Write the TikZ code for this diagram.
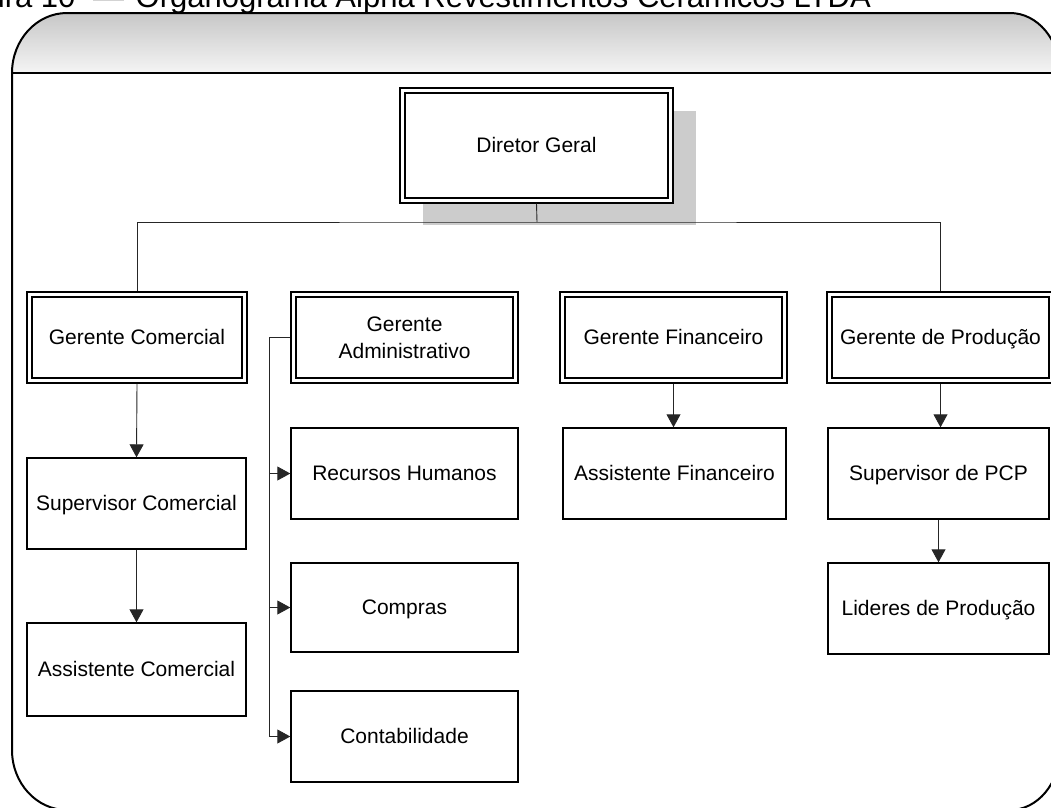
\documentclass[tikz,border=0pt]{standalone}
\usepackage{fontspec}
\setmainfont{Liberation Sans}
\usetikzlibrary{arrows.meta}

\begin{document}
\begin{tikzpicture}[x=1pt,y=-1pt,
  box/.style={draw=black,line width=1.4pt,fill=white,minimum width=219pt,
    minimum height=91pt,inner sep=0pt,align=center,
    text height=15pt,text depth=1pt,
    font=\fontsize{21}{27}\selectfont},
  dblbox/.style={box,line width=1.1pt,
    path picture={\draw[line width=2pt]
      ([shift={(5pt,5pt)}]path picture bounding box.south west) rectangle
      ([shift={(-5pt,-5pt)}]path picture bounding box.north east);}},
  link/.style={draw=black!85,line width=0.9pt},
  arr/.style={link,-{Triangle[length=13pt,width=14pt]}},
]
\useasboundingbox (0,0) rectangle (1051,807);

% caption above the frame
\node[anchor=base east,inner sep=0pt,font=\fontsize{31}{32}\selectfont] (title)
  at (871,7) {Figura 10\hspace{9pt} —\hspace{3pt} Organograma Alpha Revestimentos Cerâmicos LTDA};

% frame with shaded header band
\path[top color=black!22,bottom color=black!4]
  (12,73) arc[start angle=180,end angle=270,x radius=55,y radius=60]
  -- (1010,13) arc[start angle=270,end angle=360,x radius=50,y radius=60]
  -- cycle;
\draw[line width=2pt]
  (12,750) -- (12,73) arc[start angle=180,end angle=270,x radius=55,y radius=60]
  -- (1010,13) arc[start angle=270,end angle=360,x radius=50,y radius=60]
  -- (1060,750) arc[start angle=0,end angle=90,x radius=50,y radius=60]
  -- (67,810) arc[start angle=90,end angle=180,x radius=55,y radius=60]
  -- cycle;
\draw[line width=2pt] (12,73) -- (1060,73);

% top box with its drop shadow
\fill[black!20] (423,111) rectangle (696,225);
\node[dblbox,minimum width=273pt,minimum height=115pt] (dg) at (536.5,145.5) {Diretor Geral};

% managers
\node[dblbox,minimum width=220pt] (gc) at (137,337.5) {Gerente Comercial};
\node[dblbox,minimum width=227pt,text height=,text depth=] (ga) at (404.5,337.5) {Gerente\\Administrativo};
\node[dblbox,minimum width=227pt] (gf) at (673.5,337.5) {Gerente Financeiro};
\node[dblbox,minimum width=227pt] (gp) at (940.5,337.5) {Gerente de Produção};

% staff
\node[box] (sc) at (136.5,503.5) {Supervisor Comercial};
\node[box,minimum height=93pt] (ac) at (136.5,669.5) {Assistente Comercial};
\node[box,minimum width=227pt] (rh) at (404.5,473.5) {Recursos Humanos};
\node[box,minimum width=227pt,minimum height=89pt] (co) at (404.5,607.5) {Compras};
\node[box,minimum width=227pt] (ct) at (404.5,736.5) {Contabilidade};
\node[box,minimum width=223pt] (af) at (674.5,473.5) {Assistente Financeiro};
\node[box,minimum width=221pt] (sp) at (938.5,473.5) {Supervisor de PCP};
\node[box,minimum width=221pt] (lp) at (938.5,608.5) {Lideres de Produção};

% connectors
\coordinate (bus) at (537,222);
\draw[link] (dg.south) -- (bus);
\draw[link] (gc.north) |- (bus) -| (gp.north);
\draw[arr] (gc.south) -- (sc.north);
\draw[arr] (sc.south) -- (ac.north);
\coordinate (spine) at (269,337.5);
\draw[link] (ga.west) -- (spine);
\draw[arr] (spine) |- (rh.west);
\draw[arr] (spine) |- (co.west);
\draw[arr] (spine) |- (ct.west);
\draw[arr] (gf.south) -- (gf.south |- af.north);
\draw[arr] (gp.south) -- (gp.south |- sp.north);
\draw[arr] (sp.south) -- (sp.south |- lp.north);
\end{tikzpicture}
\end{document}
